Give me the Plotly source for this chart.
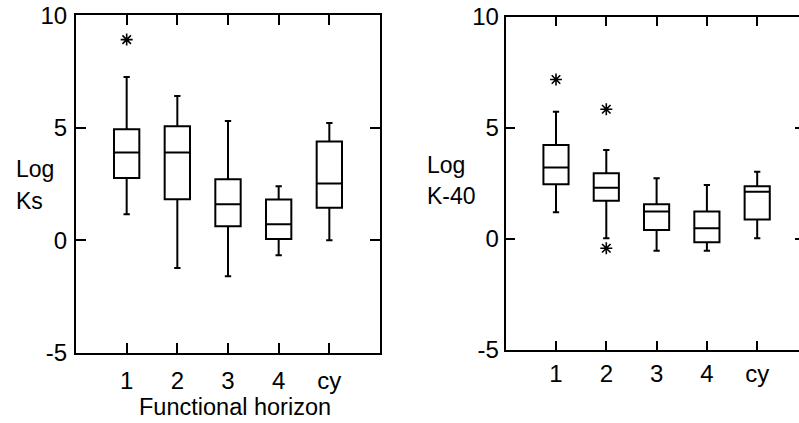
import plotly.graph_objects as go

# Functional horizon classes
categories = ["1", "2", "3", "4", "cy"]

# Log Ks box statistics per horizon
ks_lower = [1.16, -1.23, -1.60, -0.67, 0.00]
ks_q1 = [2.77, 1.82, 0.62, 0.06, 1.44]
ks_median = [3.90, 3.90, 1.60, 0.71, 2.52]
ks_q3 = [4.93, 5.07, 2.71, 1.81, 4.39]
ks_upper = [7.26, 6.41, 5.30, 2.40, 5.21]
ks_out_x = ["1"]
ks_out_y = [8.92]

# Log K-40 box statistics per horizon
k40_lower = [1.19, 0.02, -0.55, -0.55, 0.02]
k40_q1 = [2.46, 1.71, 0.39, -0.16, 0.87]
k40_median = [3.21, 2.30, 1.22, 0.47, 2.12]
k40_q3 = [4.22, 2.95, 1.55, 1.22, 2.37]
k40_upper = [5.72, 4.00, 2.72, 2.42, 3.02]
k40_out_x = ["1", "2", "2"]
k40_out_y = [7.18, 5.84, -0.43]

y_ticks = [-5, 0, 5, 10]

FONT = "Liberation Sans, Arial, sans-serif"
W, H = 799, 423


def px_x(p):
    return p / W


def px_y(p):
    return (H - p) / H


fig = go.Figure()

box_style = dict(
    line=dict(color="black", width=2),
    fillcolor="white",
    width=0.5,
    whiskerwidth=0.25,
    boxpoints=False,
    showlegend=False,
    hoverinfo="skip",
)
star_style = dict(
    mode="markers",
    marker=dict(symbol="asterisk-open", size=10, color="black",
                line=dict(color="black", width=1.6)),
    showlegend=False,
    hoverinfo="skip",
)

fig.add_trace(go.Box(x=categories, q1=ks_q1, median=ks_median, q3=ks_q3,
                     lowerfence=ks_lower, upperfence=ks_upper,
                     xaxis="x", yaxis="y", **box_style))
fig.add_trace(go.Scatter(x=ks_out_x, y=ks_out_y, xaxis="x", yaxis="y", **star_style))

fig.add_trace(go.Box(x=categories, q1=k40_q1, median=k40_median, q3=k40_q3,
                     lowerfence=k40_lower, upperfence=k40_upper,
                     xaxis="x2", yaxis="y2", **box_style))
fig.add_trace(go.Scatter(x=k40_out_x, y=k40_out_y, xaxis="x2", yaxis="y2", **star_style))
# carrier for the right-hand tick axis of the second panel
fig.add_trace(go.Scatter(x=[], y=[], xaxis="x2", yaxis="y3", showlegend=False))

tickfont = dict(family=FONT, size=24, color="black")

common_x = dict(
    type="category",
    categoryorder="array",
    categoryarray=categories,
    showline=True, linecolor="black", linewidth=2,
    ticks="inside", tickwidth=2, tickcolor="black",
    showgrid=False, zeroline=False,
    tickfont=tickfont,
    mirror="ticks",
    automargin=False,
    fixedrange=True,
)
common_y = dict(
    showline=True, linecolor="black", linewidth=2,
    ticks="inside", tickwidth=2, tickcolor="black",
    showgrid=False, zeroline=False,
    tickvals=y_ticks, ticktext=[str(v) for v in y_ticks],
    tickfont=tickfont,
    automargin=False,
    fixedrange=True,
)

fig.update_layout(
    template="none",
    width=W, height=H,
    margin=dict(l=0, r=0, t=0, b=0, autoexpand=False),
    paper_bgcolor="white", plot_bgcolor="white",
    xaxis=dict(domain=[px_x(76), px_x(380)], range=[-1, 5], anchor="y",
               ticklen=10, ticklabelstandoff=5, **common_x),
    yaxis=dict(domain=[px_y(352.7), px_y(15.3)], range=[-5, 10], anchor="x",
               ticklen=10, mirror="ticks", ticklabelstandoff=2, **common_y),
    xaxis2=dict(domain=[px_x(505.7), 1.0], range=[-1, (W - 505.7) / 50.3 - 1],
                anchor="y2", ticklen=9, ticklabelstandoff=2, **common_x),
    yaxis2=dict(domain=[px_y(349.5), px_y(17)], range=[-5, 10], anchor="x2",
                ticklen=9, mirror=False, ticklabelstandoff=0, **common_y),
    yaxis3=dict(overlaying="y2", side="right", anchor="x2", range=[-5, 10],
                tickvals=y_ticks, ticks="inside", ticklen=4, tickwidth=2,
                tickcolor="black", showticklabels=False, showline=False,
                showgrid=False, zeroline=False, automargin=False, fixedrange=True),
    showlegend=False,
)

label_font = dict(family=FONT, size=23, color="black")
labels = [
    ("Log", 14, 169),
    ("Ks", 14, 201),
    ("Log", 425, 165),
    ("K-40", 425, 196),
]
for text, x, y in labels:
    fig.add_annotation(text=text, x=px_x(x), y=px_y(y), xref="paper", yref="paper",
                       xanchor="left", yanchor="middle", showarrow=False,
                       font=label_font)

fig.add_annotation(text="Functional horizon", x=px_x(235), y=px_y(407),
                   xref="paper", yref="paper", xanchor="center", yanchor="middle",
                   showarrow=False, font=dict(family=FONT, size=23.5, color="black"))

fig.write_html("out.html")
